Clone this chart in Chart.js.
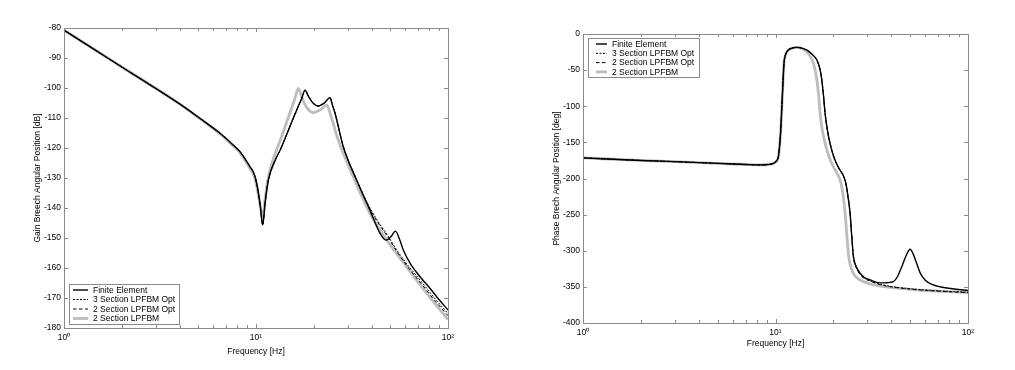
<!DOCTYPE html>
<html><head><meta charset="utf-8">
<script src="https://cdn.jsdelivr.net/npm/chart.js@4"></script>
<style>
html,body{margin:0;padding:0;background:#fff;}
#wrap{position:relative;width:1015px;height:370px;overflow:hidden;}
.box{position:absolute;top:0;height:370px;}
</style></head><body>
<div id="wrap">
<div class="box" style="left:0;width:507px"><canvas id="gain"></canvas></div>
<div class="box" style="left:507px;width:508px"><canvas id="phase"></canvas></div>
</div>
<script>
// ---------- Data ----------
const seriesLabels = ['Finite Element', '3 Section LPFBM Opt', '2 Section LPFBM Opt', '2 Section LPFBM'];
const xTickValues = [1,2,3,4,5,6,7,8,9,10,20,30,40,50,60,70,80,90,100];
const gainTicks = [-180,-170,-160,-150,-140,-130,-120,-110,-100,-90,-80];
const phaseTicks = [-400,-350,-300,-250,-200,-150,-100,-50,0];

// Gain [dB]
const gainFreqFE = [1,1.5,2,3,4,5.1,6.5,7.4,8.25,9.3,9.8,10.1,10.5,10.84,11.15,11.6,12.6,13.4,15.0,16.3,17.3,18.0,18.7,19.8,21.1,22.7,24.3,25.0,25.8,28.5,33.4,39.2,44.2,47.5,50.5,53.2,56,58.5,64,71.5,80,87.3,100];
const gainFE     = [-80.7,-87.9,-93.0,-100.1,-105.3,-110.1,-115.1,-118.3,-121.2,-126.2,-128.8,-132.0,-138.6,-145.7,-138.4,-130.7,-124.0,-120.5,-112.9,-107.3,-103.5,-100.7,-102.6,-105.0,-106.0,-105.0,-103.2,-105.7,-108.4,-119.6,-130.7,-140.7,-148.4,-150.7,-149.5,-147.7,-150.5,-154.0,-158.8,-162.9,-166.5,-169.6,-174.0];

const gainFreqO3 = [1,1.5,2,3,4,5.1,6.5,7.4,8.25,9.3,9.8,10.1,10.5,10.84,11.15,11.6,12.6,13.4,15.0,16.3,17.3,18.0,18.7,19.8,21.1,22.7,24.3,25.0,25.8,28.5,33.4,39.2,44.2,47.5,54,62,71.5,85,100];
const gainO3     = [-80.7,-87.9,-93.0,-100.1,-105.3,-110.1,-115.1,-118.3,-121.2,-126.2,-128.8,-132.0,-138.6,-145.7,-138.4,-130.7,-124.0,-120.5,-112.9,-107.3,-103.5,-100.7,-102.6,-105.0,-106.0,-105.0,-103.2,-105.7,-108.4,-119.6,-130.4,-140.0,-145.4,-148.3,-153.9,-159.2,-164.0,-170.0,-175.2];

const gainFreqO2 = [1,1.5,2,3,4,5.1,6.5,7.4,8.25,9.3,9.8,10.1,10.5,10.84,11.15,11.6,12.6,13.4,15.0,16.3,17.3,18.0,18.7,19.8,21.1,22.7,24.3,25.0,25.8,28.5,33.4,39.2,44.2,47.5,54,62,71.5,85,100];
const gainO2     = [-80.7,-87.9,-93.0,-100.1,-105.3,-110.1,-115.1,-118.3,-121.2,-126.2,-128.8,-132.0,-138.6,-145.7,-138.4,-130.7,-124.0,-120.5,-112.9,-107.3,-103.5,-100.7,-102.6,-105.0,-106.0,-105.0,-103.2,-105.7,-108.4,-119.6,-130.6,-140.3,-145.9,-148.7,-154.4,-159.8,-164.7,-170.7,-175.9];

const gainFreqLP = [1,1.5,2,3,4,5.1,6.5,7.4,8.25,9.3,9.8,10.1,10.5,10.84,11.15,11.6,12.6,13.4,15.0,16.0,16.6,17.4,18.5,19.9,21.6,23.4,24.2,26.8,32.1,39.2,48,60.9,77.4,100];
const gainLP     = [-80.7,-87.9,-93.0,-100.1,-105.3,-110.2,-115.3,-118.6,-121.6,-126.8,-129.5,-132.8,-139.0,-143.5,-137.0,-129.6,-121.8,-117.3,-108.4,-103.2,-100.1,-103.5,-106.8,-108.2,-107.3,-105.7,-108.0,-117.3,-129.6,-141.8,-150.7,-159.6,-168.4,-177.2];

// Phase [deg]
const phaseFreqFE = [1,2,3,5,7,8.3,9.3,9.75,10.1,10.35,10.5,10.65,10.85,11.07,11.3,11.66,12.2,12.9,13.7,14.5,15.5,16.4,17.0,17.4,17.75,18.1,18.6,19.2,20.2,21.6,22.5,23.2,23.8,24.4,24.9,25.4,26.3,27.5,29,31,34.9,38,40.9,43,45.3,47.5,50,52,54.1,56.5,59.8,65,71.5,85,100];
const phaseFE     = [-171.5,-175,-176.7,-179,-180.6,-181.2,-180.5,-179,-176,-169.8,-155,-132.9,-86.7,-40.6,-28,-22.1,-19.5,-18.5,-19.5,-22.1,-28,-36,-48,-63.7,-85,-109.8,-133,-151.3,-172,-188.2,-196,-206.7,-225,-248.2,-280,-308.2,-322,-331,-337,-340.4,-344.5,-344.2,-342.8,-336,-322,-308,-298,-305,-317.4,-331,-340.4,-346.5,-349.8,-353,-355];

const phaseFreqO3 = [1,2,3,5,7,8.3,9.3,9.75,10.1,10.35,10.5,10.65,10.85,11.07,11.3,11.66,12.2,12.9,13.7,14.5,15.5,16.4,17.0,17.4,17.75,18.1,18.6,19.2,20.2,21.6,22.5,23.2,23.8,24.4,24.9,25.4,26.3,27.5,29,31,34,40,50,60,72,85,100];
const phaseO3     = [-171.5,-175,-176.7,-179,-180.6,-181.2,-180.5,-179,-176,-169.8,-155,-132.9,-86.7,-40.6,-28,-22.1,-19.5,-18.5,-19.5,-22.1,-28,-36,-48,-63.7,-85,-109.8,-133,-151.3,-172,-188.2,-196,-206.7,-225,-248.2,-280,-308.2,-323,-332.5,-338,-341.5,-345.5,-349.5,-352.5,-354.3,-355.6,-356.6,-357.5];

const phaseFreqO2 = [1,2,3,5,7,8.3,9.3,9.75,10.1,10.35,10.5,10.65,10.85,11.07,11.3,11.66,12.2,12.9,13.7,14.5,15.5,16.4,17.0,17.4,17.75,18.1,18.6,19.2,20.2,21.6,22.5,23.2,23.8,24.4,24.9,25.4,26.3,27.5,29,31,34,40,50,60,72,85,100];
const phaseO2     = [-171.5,-175,-176.7,-179,-180.6,-181.2,-180.5,-179,-176,-169.8,-155,-132.9,-86.7,-40.6,-28,-22.1,-19.5,-18.5,-19.5,-22.1,-28,-36,-48,-63.7,-85,-109.8,-133,-151.3,-172,-188.2,-196,-206.7,-225,-248.2,-280,-308.2,-323.5,-333,-338.5,-342,-346,-350,-353,-354.8,-356.1,-357.1,-358];

const phaseFreqLP = [1,2,3,5,7,8.3,9.3,9.75,10.1,10.35,10.5,10.65,10.85,11.07,11.3,11.66,12.2,12.9,13.7,14.2,14.8,15.5,16.0,16.4,16.75,17.05,17.5,18.1,19.1,20.4,21.2,21.9,22.5,23.0,23.5,24.0,24.8,25.9,27.5,31,35,42,50,60,70,85,100];
const phaseLP     = [-171.5,-175,-176.7,-179,-180.6,-181.2,-180.5,-179,-176,-169.8,-155,-132.9,-86.7,-40.6,-28,-22.1,-19.5,-18.5,-20,-22.5,-27,-36,-48,-63.7,-85,-109.8,-133,-151.3,-172,-188.2,-196,-206.7,-225,-248.2,-280,-308.2,-325,-335,-340.5,-346,-349,-351.5,-353.4,-355,-356,-357,-358];

// ---------- Helpers ----------
const FONT = "'Liberation Sans', Arial, Helvetica, sans-serif";
Chart.defaults.font.family = FONT;
Chart.defaults.font.size = 8.5;
Chart.defaults.color = '#000';

const toPts = (xs, ys) => xs.map((x, i) => ({x, y: ys[i]}));
const styles = [
  {borderColor:'#000000', borderWidth:1.4, borderDash:[]},
  {borderColor:'#000000', borderWidth:1.0, borderDash:[2,1.5]},
  {borderColor:'#000000', borderWidth:1.0, borderDash:[3.5,2.5]},
  {borderColor:'#bdbdbd', borderWidth:2.8, borderDash:[]}
];
function makeDatasets(pairs) {
  return pairs.map((p, i) => Object.assign({
    label: seriesLabels[i],
    data: toPts(p[0], p[1]),
    pointRadius: 0,
    fill: false,
    cubicInterpolationMode: 'monotone'
  }, styles[i]));
}
const supLabel = v => v === 1 ? '10\u2070' : v === 10 ? '10\u00B9' : v === 100 ? '10\u00B2' : '';

const frameTicks = {
  id: 'frameTicks',
  afterDatasetsDraw(chart) {
    const {ctx, chartArea: {left, right, top, bottom}, scales: {x, y}} = chart;
    ctx.save();
    ctx.strokeStyle = '#8a8a8a';
    ctx.lineWidth = 1;
    ctx.beginPath();
    x.ticks.forEach(t => {
      const px = Math.round(x.getPixelForValue(t.value)) + 0.5;
      const L = [1,10,100].includes(t.value) ? 4 : 3;
      ctx.moveTo(px, bottom); ctx.lineTo(px, bottom - L);
      ctx.moveTo(px, top); ctx.lineTo(px, top + L);
    });
    y.ticks.forEach(t => {
      const py = Math.round(y.getPixelForValue(t.value)) + 0.5;
      ctx.moveTo(left, py); ctx.lineTo(left + 4, py);
      ctx.moveTo(right, py); ctx.lineTo(right - 4, py);
    });
    ctx.stroke();
    ctx.strokeRect(Math.round(left) + 0.5, Math.round(top) + 0.5, Math.round(right - left), Math.round(bottom - top));
    ctx.restore();
  }
};

const insideLegend = {
  id: 'insideLegend',
  afterDraw(chart, args, o) {
    if (!o || !o.w) return;
    const {ctx, chartArea} = chart;
    const x0 = Math.round(chartArea.left + o.dx);
    const y0 = Math.round(o.anchor === 'bottom' ? chartArea.bottom - o.dy - o.h : chartArea.top + o.dy);
    ctx.save();
    ctx.fillStyle = '#fff';
    ctx.fillRect(x0, y0, o.w, o.h);
    ctx.strokeStyle = '#8a8a8a';
    ctx.lineWidth = 1;
    ctx.strokeRect(x0 + 0.5, y0 + 0.5, o.w, o.h);
    ctx.font = '8.5px ' + FONT;
    ctx.textBaseline = 'middle';
    ctx.textAlign = 'left';
    chart.data.datasets.forEach((ds, i) => {
      const yy = y0 + o.first + i * o.step;
      ctx.strokeStyle = ds.borderColor;
      ctx.lineWidth = ds.borderWidth;
      ctx.setLineDash(ds.borderDash || []);
      ctx.beginPath();
      ctx.moveTo(x0 + o.s0, yy); ctx.lineTo(x0 + o.s1, yy);
      ctx.stroke();
      ctx.setLineDash([]);
      ctx.fillStyle = '#000';
      ctx.fillText(ds.label, x0 + o.tx, yy + 0.5);
    });
    ctx.restore();
  }
};

function makeChart(id, cfg) {
  return new Chart(document.getElementById(id), {
    type: 'scatter',
    data: {datasets: cfg.datasets},
    options: {
      responsive: true,
      maintainAspectRatio: false,
      animation: false,
      showLine: true,
      layout: {padding: cfg.padding},
      plugins: {legend: {display: false}, tooltip: {enabled: false}, insideLegend: cfg.legend},
      scales: {
        x: {
          type: 'logarithmic', min: 1, max: 100,
          afterBuildTicks: s => { s.ticks = xTickValues.map(v => ({value: v})); },
          afterFit: s => { s.height = cfg.xh; },
          ticks: {autoSkip: false, maxRotation: 0, padding: cfg.xtpad, callback: v => supLabel(v)},
          grid: {display: false, drawTicks: false},
          border: {display: false},
          title: {display: true, text: 'Frequency [Hz]', padding: {top: 0, bottom: cfg.xtitlePad}}
        },
        y: {
          min: cfg.ymin, max: cfg.ymax,
          afterBuildTicks: s => { s.ticks = cfg.yticks.map(v => ({value: v})); },
          afterFit: s => { s.width = cfg.yw; },
          ticks: {padding: 3},
          grid: {display: false, drawTicks: false},
          border: {display: false},
          title: {display: true, text: cfg.ytitle, padding: {top: cfg.ytitlePad, bottom: 0}}
        }
      }
    },
    plugins: [frameTicks, insideLegend]
  });
}

makeChart('gain', {
  datasets: makeDatasets([[gainFreqFE, gainFE], [gainFreqO3, gainO3], [gainFreqO2, gainO2], [gainFreqLP, gainLP]]),
  padding: {left: 0, top: 28, right: 59, bottom: 0},
  xh: 42, yw: 64, xtpad: 5, xtitlePad: 13,
  ymin: -180, ymax: -80, yticks: gainTicks,
  ytitle: 'Gain Breech Angular Position [dB]', ytitlePad: 33,
  legend: {anchor: 'bottom', dx: 5, dy: 4, w: 110, h: 40, first: 6, step: 9.5, s0: 4, s1: 19, tx: 24}
});

makeChart('phase', {
  datasets: makeDatasets([[phaseFreqFE, phaseFE], [phaseFreqO3, phaseO3], [phaseFreqO2, phaseO2], [phaseFreqLP, phaseLP]]),
  padding: {left: 0, top: 34, right: 47, bottom: 0},
  xh: 47, yw: 76, xtpad: 5, xtitlePad: 21,
  ymin: -400, ymax: 0, yticks: phaseTicks,
  ytitle: 'Phase Brech Angular Position [deg]', ytitlePad: 45,
  legend: {anchor: 'top', dx: 5, dy: 4, w: 111, h: 39, first: 6, step: 9.3, s0: 8, s1: 19, tx: 24}
});
</script>
</body></html>
